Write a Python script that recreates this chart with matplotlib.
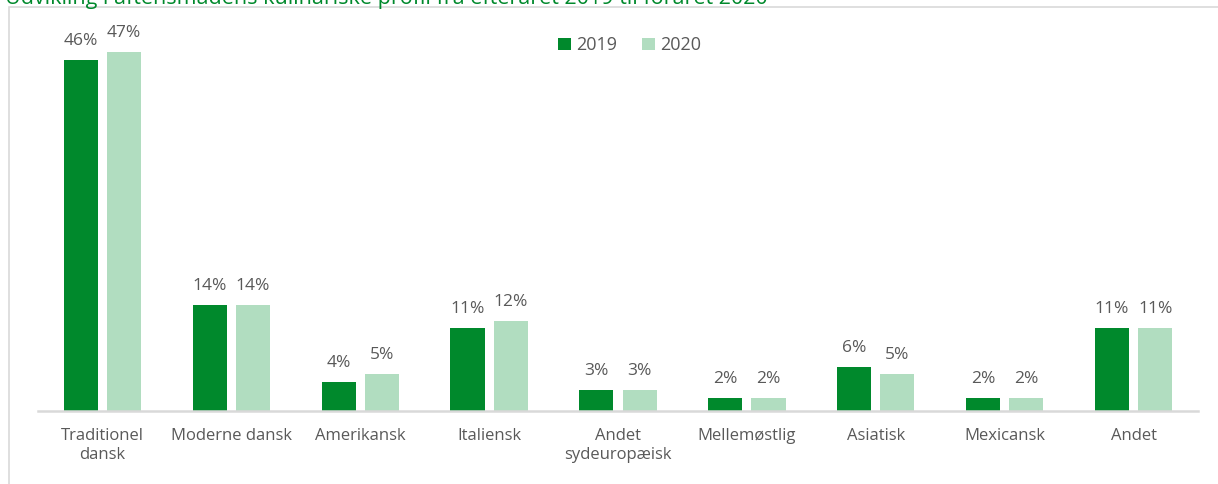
import matplotlib.pyplot as plt
import numpy as np
from matplotlib.patches import Rectangle

categories = ['Traditionel\ndansk', 'Moderne dansk', 'Amerikansk', 'Italiensk',
              'Andet\nsydeuropæisk', 'Mellemøstlig', 'Asiatisk', 'Mexicansk', 'Andet']
values_2019 = [0.46, 0.139, 0.038, 0.109, 0.028, 0.017, 0.058, 0.017, 0.109]
values_2020 = [0.47, 0.139, 0.048, 0.118, 0.028, 0.017, 0.048, 0.017, 0.109]
series_names = ['2019', '2020']
title = 'Udvikling i aftensmadens kulinariske profil fra efteråret 2019 til foråret 2020'

dark_green = '#00892C'
light_green = '#B1DDC0'
text_gray = '#595959'

plt.rcParams['font.family'] = ['Open Sans', 'DejaVu Sans']

W, H = 1218, 484
fig = plt.figure(figsize=(W / 100, H / 100), dpi=100)

# frame of the chart area (partly outside the picture)
fig.patches.append(Rectangle((9 / W, -0.1), 1.2, 1 - 7 / H + 0.1, transform=fig.transFigure,
                             fill=False, edgecolor='#D9D9D9', linewidth=1.2))

# title, cut off at the top like in the source
fig.text(5 / W, 1 + 2 / H, title, color='#00892C', fontsize=15.5, ha='left', va='center')

ax = fig.add_axes([38 / W, (H - 411) / H, 1160 / W, (411 - 29.5) / H])
x = np.arange(len(categories))
width = 0.265
gap = 0.035
b1 = ax.bar(x - width / 2 - gap, values_2019, width, color=dark_green, label=series_names[0])
b2 = ax.bar(x + width / 2 + gap, values_2020, width, color=light_green, label=series_names[1])

for bars in (b1, b2):
    for rect in bars:
        v = rect.get_height()
        ax.annotate(f'{v:.0%}', (rect.get_x() + rect.get_width() / 2, v),
                    xytext=(0, 8), textcoords='offset points', ha='center', va='bottom',
                    fontsize=12.5, color=text_gray)

ax.set_xlim(-0.5, len(categories) - 0.5)
ax.set_ylim(0, 0.5)
ax.set_xticks(x)
ax.set_xticklabels(categories, fontsize=12, color=text_gray, linespacing=1.3)
ax.tick_params(axis='x', length=0, pad=12)
ax.set_yticks([])
for s in ['top', 'right', 'left']:
    ax.spines[s].set_visible(False)
ax.spines['bottom'].set_color('#D9D9D9')
ax.spines['bottom'].set_linewidth(1.8)

leg = ax.legend(loc='upper center', bbox_to_anchor=(0.51, 1.025), ncol=2, frameon=False,
                fontsize=13, handlelength=0.7, handleheight=0.7, handletextpad=0.3,
                columnspacing=1.4)
for t in leg.get_texts():
    t.set_color(text_gray)

fig.savefig('out.png', dpi=100)
